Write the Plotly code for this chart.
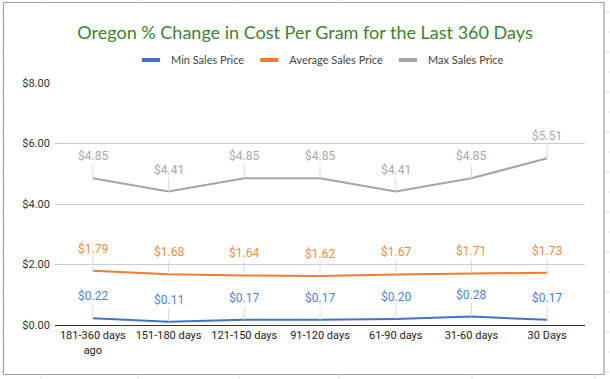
import plotly.graph_objects as go

categories = ["181-360 days<br>ago", "151-180 days", "121-150 days", "91-120 days",
              "61-90 days", "31-60 days", "30 Days"]
min_price = [0.22, 0.11, 0.17, 0.17, 0.20, 0.28, 0.17]
avg_price = [1.79, 1.68, 1.64, 1.62, 1.67, 1.71, 1.73]
max_price = [4.85, 4.41, 4.85, 4.85, 4.41, 4.85, 5.51]
series_names = ["Min Sales Price", "Average Sales Price", "Max Sales Price"]
series_colors = ["#4472c4", "#ed7d31", "#a5a5a5"]
series_values = [min_price, avg_price, max_price]
label_colors = ["#4f7fd6", "#f08a3c", "#a8a8a8"]
title_text = "Oregon % Change in Cost Per Gram for the Last 360 Days"

W, H = 610, 379
L, R, T, B = 55, 25, 83, 54
PW, PH = W - L - R, H - T - B


def px(p):
    return (p - L) / PW


def py(p):
    return (H - B - p) / PH


fig = go.Figure()
for name, vals, col in zip(series_names, series_values, series_colors):
    fig.add_trace(go.Scatter(x=categories, y=vals, mode="lines", name=name,
                             line=dict(color=col, width=2), showlegend=False,
                             hoverinfo="skip"))
for name, col in zip(series_names, series_colors):
    fig.add_trace(go.Scatter(x=[None], y=[None], mode="markers", name=name,
                             marker=dict(symbol="line-ew", size=13,
                                         line=dict(width=4, color=col))))

annotations = []
for vals, col in zip(series_values, label_colors):
    for c, v in zip(categories, vals):
        annotations.append(dict(
            x=c, y=v, xref="x", yref="y", text=f"${v:.2f}",
            showarrow=True, arrowhead=0, arrowwidth=1, arrowcolor="#dadada",
            ax=0, ay=-22, standoff=0,
            font=dict(family="Roboto", size=12, color=col)))

shapes = []
grid_col = "#e3e3e3"
# spreadsheet grid outside the chart box
for gx in [41, 138, 239, 339, 472, 595]:
    shapes.append(dict(type="line", xref="paper", yref="paper",
                       x0=px(gx), x1=px(gx), y0=py(0), y1=py(3),
                       line=dict(color=grid_col, width=1)))
    shapes.append(dict(type="line", xref="paper", yref="paper",
                       x0=px(gx), x1=px(gx), y0=py(375), y1=py(379),
                       line=dict(color=grid_col, width=1)))
for gy in range(12, 380, 20):
    shapes.append(dict(type="line", xref="paper", yref="paper",
                       x0=px(0), x1=px(3), y0=py(gy), y1=py(gy),
                       line=dict(color=grid_col, width=1)))
    shapes.append(dict(type="line", xref="paper", yref="paper",
                       x0=px(605), x1=px(610), y0=py(gy), y1=py(gy),
                       line=dict(color=grid_col, width=1)))
# chart border
shapes.append(dict(type="rect", xref="paper", yref="paper",
                   x0=px(3.5), x1=px(604), y0=py(2.5), y1=py(374.5),
                   line=dict(color="#a0a0a0", width=1.2)))

fig.update_layout(
    width=W, height=H,
    margin=dict(l=L, r=R, t=T, b=B),
    paper_bgcolor="white", plot_bgcolor="white",
    title=dict(text=title_text, x=0.5, xref="container", xanchor="center",
               y=1 - 33 / H, yanchor="middle",
               font=dict(family="Lato", size=18, color="#3d8230")),
    legend=dict(orientation="h", x=0.5, xref="paper", xanchor="center",
                y=py(60), yanchor="middle",
                font=dict(family="Lato", size=11, color="#444444"),
                itemwidth=30, bgcolor="rgba(0,0,0,0)"),
    xaxis=dict(type="category", range=[-0.5, 6.5], showgrid=False,
               showline=True, linecolor="#333333", linewidth=1,
               ticks="", tickfont=dict(family="Roboto", size=11, color="#222222"),
               fixedrange=True, automargin=False),
    yaxis=dict(range=[0, 8], dtick=2, tickprefix="$", tickformat=".2f",
               showgrid=True, gridcolor="#cccccc", gridwidth=1, zeroline=False,
               ticks="", tickfont=dict(family="Roboto", size=11, color="#333333"),
               ticklabelstandoff=4,
               fixedrange=True, automargin=False),
    annotations=annotations,
    shapes=shapes,
    showlegend=True,
)

fig.write_html("out.html",
               config={"displayModeBar": False},
               post_script="document.body.style.margin='0';"
                           "document.body.style.overflow='hidden';")
